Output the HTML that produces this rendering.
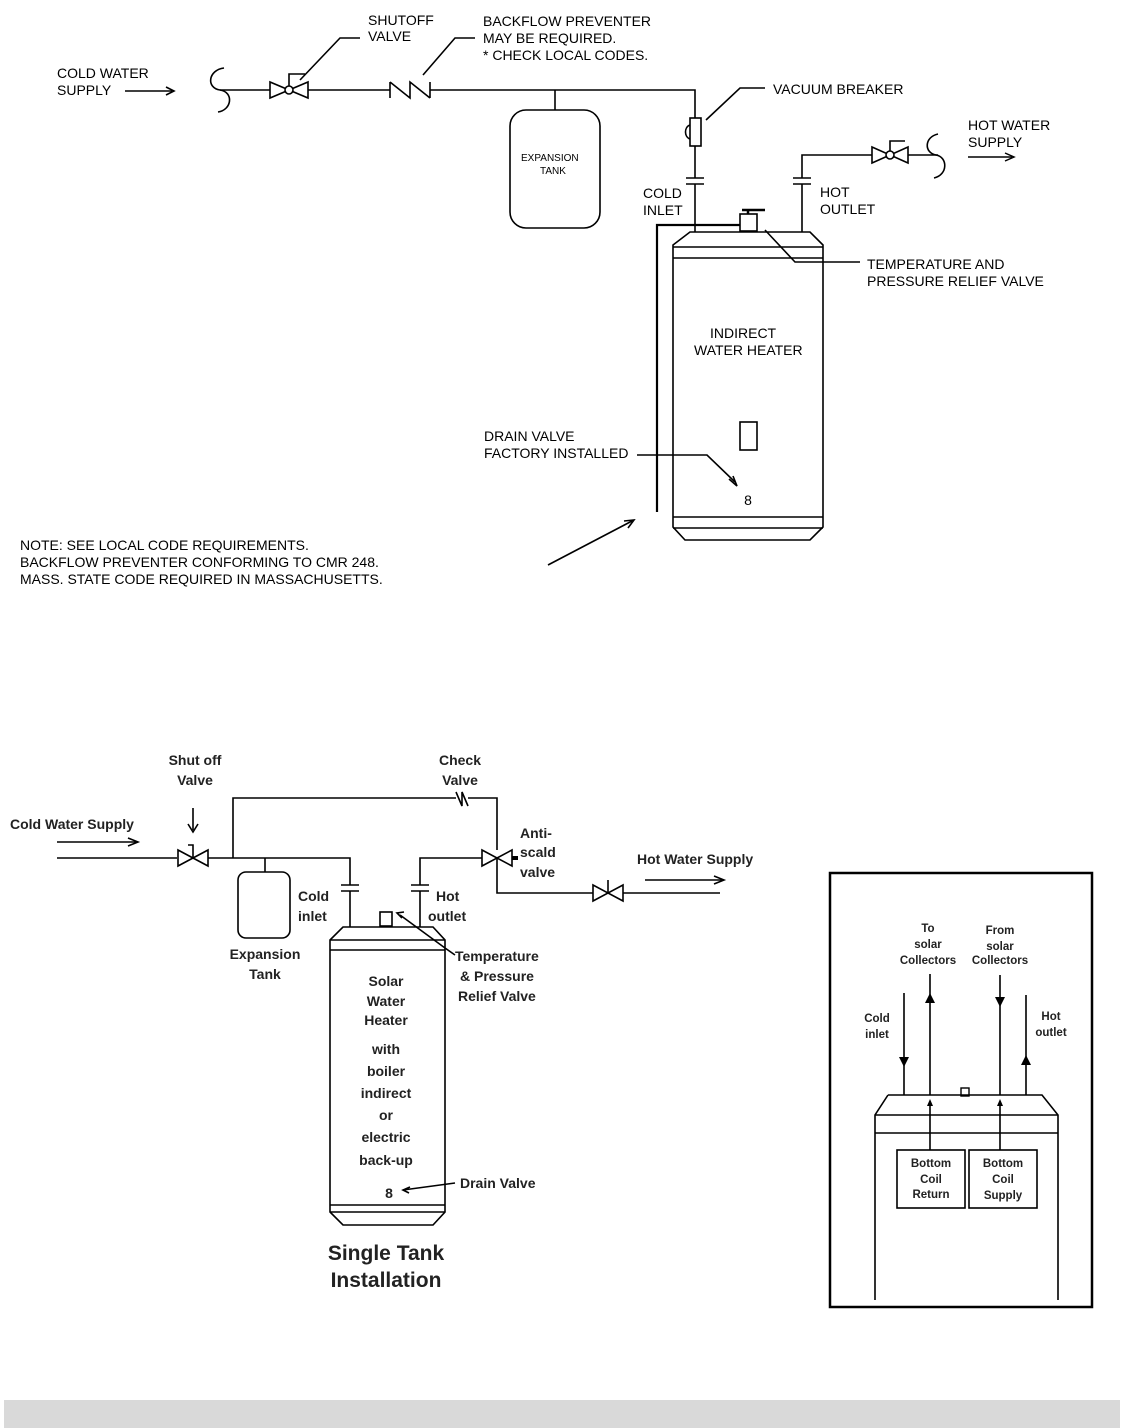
<!DOCTYPE html>
<html><head><meta charset="utf-8"><style>
html,body{margin:0;padding:0;background:#fff;}
svg{display:block}
.t{font-family:"Liberation Sans",sans-serif;font-size:14px;fill:#000}
.b{font-family:"Liberation Sans",sans-serif;font-size:14px;font-weight:bold;fill:#222}
.s{font-size:11.5px}
.big{font-size:21px}
.xs{font-size:10px}
</style></head><body>
<svg width="1124" height="1428" viewBox="0 0 1124 1428" xmlns="http://www.w3.org/2000/svg">
<g stroke="#000" stroke-width="1.6" fill="none">
<path d="M125 91 L172 91"/><path d="M166 87 L174 91 L166 95"/>
<path d="M224 68 C208 70 206 88 220 90 C234 92 232 110 218 112"/>
<path d="M220 90 L270 90"/>
<path d="M270 82 L270 98 L308 82 L308 98 Z"/>
<circle cx="289" cy="90" r="4" fill="#fff"/>
<path d="M289 86 L289 74 L305 74"/>
<path d="M308 90 L390 90"/>
<path d="M390 82 L390 98 M390 82 L410 98 L410 82 L430 98 M430 82 L430 98"/>
<path d="M430 90 L695 90 L695 118"/>
<path d="M555 90 L555 110"/>
<rect x="510" y="110" width="90" height="118" rx="16"/>
<rect x="690" y="118" width="11" height="28"/>
<path d="M690 125 C684 127 684 137 690 139"/>
<path d="M695 146 L695 178"/>
<path d="M686 178 L704 178 M686 184 L704 184"/>
<path d="M695 184 L695 232"/>
<path d="M802 232 L802 184 M793 184 L811 184 M793 178 L811 178 M802 178 L802 155 L872 155"/>
<path d="M872 147 L872 163 L908 147 L908 163 Z"/>
<circle cx="890" cy="155" r="4" fill="#fff"/>
<path d="M890 151 L890 141 L905 141"/>
<path d="M908 155 L938 155"/>
<path d="M938 134 C924 137 924 153 936 155 C948 157 948 175 934 178"/>
<path d="M657 512 L657 225 L740 225" stroke-width="2.2"/>
<path d="M690 232 L810 232 L823 245 L823 527 L810 540 L685 540 L673 527 L673 245 Z"/>
<path d="M673 247 L823 247 M673 258 L823 258 M673 517 L823 517 M673 528 L823 528"/>
<rect x="740" y="214" width="17" height="17"/>
<path d="M748 214 L748 210 M742 210 L765 210" stroke-width="2.5"/>
<path d="M765 230 L795 262 L860 262"/>
<rect x="740" y="422" width="17" height="28"/>
<path d="M637 455 L707 455 L735 482"/><path d="M729 479 L737 486 L733 476"/>
<path d="M548 565 L632 521"/><path d="M624 521 L634 520 L628 528"/>
<path d="M300 80 L340 38 L360 38"/>
<path d="M423 75 L455 38 L475 38"/>
<path d="M706 120 L740 88 L765 88"/>
<path d="M57 842 L136 842 M57 858 L177 858"/><path d="M128 838 L138 842 L128 846"/>
<path d="M178 850 L178 866 L208 850 L208 866 Z"/>
<path d="M193 858 L193 845 L188 845"/>
<path d="M193 808 L193 830"/><path d="M188 824 L193 832 L198 824"/>
<path d="M208 858 L350 858 L350 885"/>
<path d="M233 858 L233 798 L456 798"/>
<path d="M456 792 L462 806 L462 792 L468 806"/>
<path d="M468 798 L497 798 L497 850"/>
<path d="M265 858 L265 872"/>
<rect x="238" y="872" width="52" height="66" rx="8"/>
<path d="M341 885 L359 885 M341 891 L359 891 M350 891 L350 927"/>
<path d="M420 927 L420 891 M411 891 L429 891 M411 885 L429 885 M420 885 L420 858 L482 858"/>
<path d="M482 850 L482 866 L512 850 L512 866 Z"/>
<path d="M512 858 L518 858" stroke-width="4"/>
<path d="M497 858 L497 893 L593 893"/>
<path d="M593 885 L593 901 L623 885 L623 901 Z"/>
<path d="M608 893 L608 880"/>
<path d="M623 893 L720 893"/>
<path d="M645 880 L722 880"/><path d="M714 876 L724 880 L714 884"/>
<path d="M343 927 L433 927 L445 940 L445 1212 L433 1225 L343 1225 L330 1212 L330 940 Z"/>
<path d="M330 940 L445 940 M330 950 L445 950 M330 1205 L445 1205 M330 1212 L445 1212"/>
<rect x="380" y="912" width="12" height="14"/>
<path d="M400 915 L445 948 L455 955"/>
<path d="M404 912 L397 913 L402 918"/>
<path d="M403 1190 L455 1183"/>
<path d="M410 1187 L403 1190 L409 1193"/>
<rect x="830" y="873" width="262" height="434" stroke-width="2.5"/>
<path d="M888 1095 L1042 1095 L1058 1115 L1058 1300 M888 1095 L875 1115 L875 1300"/>
<path d="M875 1115 L1058 1115 M875 1133 L1058 1133"/>
<rect x="897" y="1150" width="68" height="58"/>
<rect x="969" y="1150" width="68" height="58"/>
<path d="M904 993 L904 1095 M930 974 L930 1095 M1000 975 L1000 1095 M1026 995 L1026 1095"/>
<path d="M930 1105 L930 1150 M1000 1105 L1000 1150"/>
</g>
<g fill="#000">
<path d="M899 1057 L909 1057 L904 1067 Z"/>
<path d="M925 1003 L935 1003 L930 993 Z"/>
<path d="M995 997 L1005 997 L1000 1007 Z"/>
<path d="M1021 1065 L1031 1065 L1026 1055 Z"/>
<path d="M927 1106 L933 1106 L930 1099 Z M997 1106 L1003 1106 L1000 1099 Z"/>
</g>
<rect x="961" y="1088" width="8" height="8" fill="none" stroke="#000" stroke-width="1.4"/>
<text class="t" x="748" y="505" text-anchor="middle">8</text>
<text class="b" x="389" y="1198" text-anchor="middle">8</text>
<text class="t" x="368" y="25">SHUTOFF</text>
<text class="t" x="368" y="41">VALVE</text>
<text class="t" x="483" y="26">BACKFLOW PREVENTER</text>
<text class="t" x="483" y="43">MAY BE REQUIRED.</text>
<text class="t" x="483" y="60">* CHECK LOCAL CODES.</text>
<text class="t" x="57" y="78">COLD WATER</text>
<text class="t" x="57" y="95">SUPPLY</text>
<text class="t xs" x="521" y="161">EXPANSION</text>
<text class="t xs" x="540" y="174">TANK</text>
<text class="t" x="773" y="94">VACUUM BREAKER</text>
<text class="t" x="968" y="130">HOT WATER</text>
<text class="t" x="968" y="147">SUPPLY</text>
<path d="M968 157 L1012 157" stroke="#000" stroke-width="1.5"/><path d="M1005 153 L1014 157 L1005 161" stroke="#000" fill="none" stroke-width="1.5"/>
<text class="t" x="643" y="198">COLD</text>
<text class="t" x="643" y="215">INLET</text>
<text class="t" x="820" y="197">HOT</text>
<text class="t" x="820" y="214">OUTLET</text>
<text class="t" x="867" y="269">TEMPERATURE AND</text>
<text class="t" x="867" y="286">PRESSURE RELIEF VALVE</text>
<text class="t" x="710" y="338">INDIRECT</text>
<text class="t" x="694" y="355">WATER HEATER</text>
<text class="t" x="484" y="441">DRAIN VALVE</text>
<text class="t" x="484" y="458">FACTORY INSTALLED</text>
<text class="t" x="20" y="550">NOTE:  SEE LOCAL CODE REQUIREMENTS.</text>
<text class="t" x="20" y="567">BACKFLOW PREVENTER CONFORMING TO CMR 248.</text>
<text class="t" x="20" y="584">MASS. STATE CODE REQUIRED IN MASSACHUSETTS.</text>
<text class="b" x="195" y="765" text-anchor="middle">Shut off</text>
<text class="b" x="195" y="785" text-anchor="middle">Valve</text>
<text class="b" x="460" y="765" text-anchor="middle">Check</text>
<text class="b" x="460" y="785" text-anchor="middle">Valve</text>
<text class="b" x="10" y="829">Cold Water Supply</text>
<text class="b" x="520" y="838">Anti-</text>
<text class="b" x="520" y="857">scald</text>
<text class="b" x="520" y="877">valve</text>
<text class="b" x="637" y="864">Hot Water Supply</text>
<text class="b" x="298" y="901">Cold</text>
<text class="b" x="298" y="921">inlet</text>
<text class="b" x="436" y="901">Hot</text>
<text class="b" x="428" y="921">outlet</text>
<text class="b" x="265" y="959" text-anchor="middle">Expansion</text>
<text class="b" x="265" y="979" text-anchor="middle">Tank</text>
<text class="b" x="455" y="961">Temperature</text>
<text class="b" x="460" y="981">&amp; Pressure</text>
<text class="b" x="458" y="1001">Relief Valve</text>
<g text-anchor="middle">
<text class="b" x="386" y="986">Solar</text>
<text class="b" x="386" y="1006">Water</text>
<text class="b" x="386" y="1025">Heater</text>
<text class="b" x="386" y="1054">with</text>
<text class="b" x="386" y="1076">boiler</text>
<text class="b" x="386" y="1098">indirect</text>
<text class="b" x="386" y="1120">or</text>
<text class="b" x="386" y="1142">electric</text>
<text class="b" x="386" y="1165">back-up</text>
<text class="b big" x="386" y="1260">Single Tank</text>
<text class="b big" x="386" y="1287">Installation</text>
<text class="b s" x="928" y="932">To</text>
<text class="b s" x="928" y="948">solar</text>
<text class="b s" x="928" y="964">Collectors</text>
<text class="b s" x="1000" y="934">From</text>
<text class="b s" x="1000" y="950">solar</text>
<text class="b s" x="1000" y="964">Collectors</text>
<text class="b s" x="877" y="1022">Cold</text>
<text class="b s" x="877" y="1038">inlet</text>
<text class="b s" x="1051" y="1020">Hot</text>
<text class="b s" x="1051" y="1036">outlet</text>
<text class="b s" x="931" y="1167">Bottom</text>
<text class="b s" x="931" y="1183">Coil</text>
<text class="b s" x="931" y="1198">Return</text>
<text class="b s" x="1003" y="1167">Bottom</text>
<text class="b s" x="1003" y="1183">Coil</text>
<text class="b s" x="1003" y="1199">Supply</text>
</g>
<text class="b" x="460" y="1188">Drain Valve</text>
<rect x="4" y="1400" width="1116" height="28" fill="#d9d9d9"/>
</svg>
</body></html>
